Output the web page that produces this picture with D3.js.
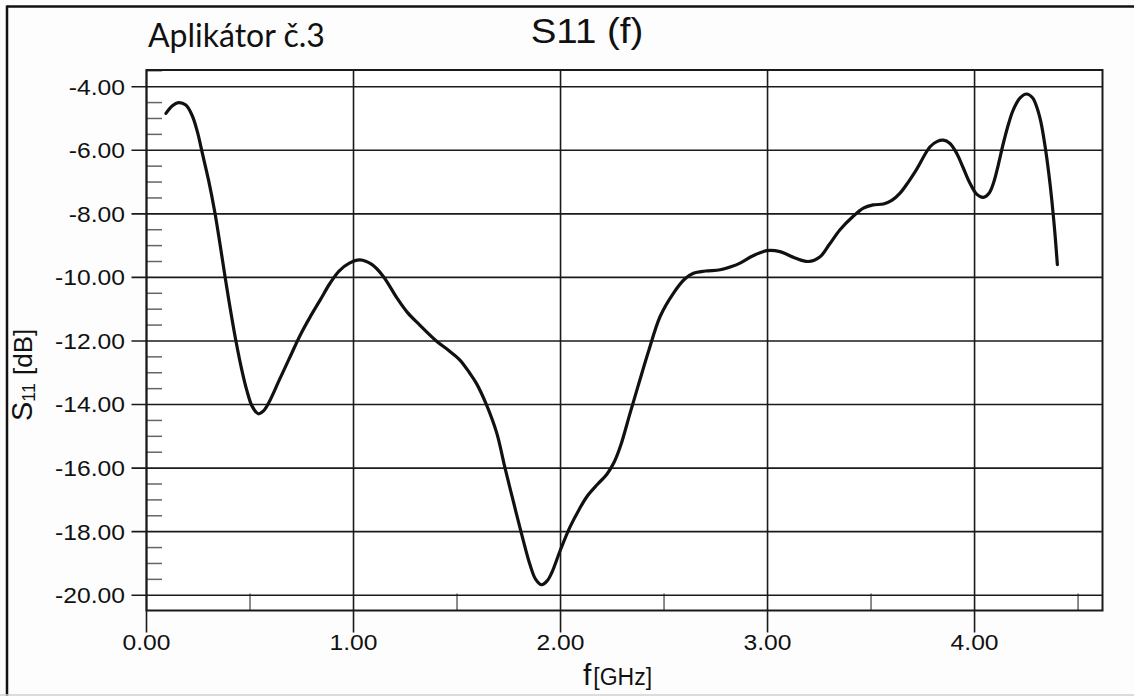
<!DOCTYPE html>
<html>
<head>
<meta charset="utf-8">
<script src="https://cdn.jsdelivr.net/npm/d3@7"></script>
<style>
  body { margin: 0; background: #fdfdfd; }
  svg { display: block; }
</style>
</head>
<body>
<div id="chart"></div>
<script>
// frequency [GHz]
var freq = [0.094, 0.125, 0.154, 0.19, 0.22, 0.245, 0.27, 0.30, 0.33, 0.355, 0.38, 0.405, 0.432, 0.46, 0.484, 0.51,
  0.54, 0.565, 0.59, 0.64, 0.69, 0.74, 0.79, 0.84, 0.885, 0.93, 0.98, 1.031, 1.09, 1.144, 1.21, 1.26, 1.32, 1.40,
  1.46, 1.514, 1.56, 1.595, 1.643, 1.692, 1.732, 1.772, 1.813, 1.853, 1.88, 1.909, 1.935, 1.957, 1.998, 2.046, 2.09,
  2.127, 2.18, 2.223, 2.26, 2.29, 2.336, 2.38, 2.424, 2.481, 2.545, 2.6, 2.642, 2.70, 2.771, 2.83, 2.867, 2.93,
  2.996, 3.06, 3.13, 3.197, 3.254, 3.30, 3.35, 3.41, 3.463, 3.51, 3.56, 3.60, 3.64, 3.68, 3.72, 3.785, 3.82, 3.849,
  3.88, 3.914, 3.945, 3.978, 4.01, 4.042, 4.07, 4.091, 4.115, 4.139, 4.165, 4.187, 4.22, 4.252, 4.28, 4.30, 4.32,
  4.341, 4.358, 4.373, 4.388, 4.40];

// S11 [dB]
var s11 = [-4.84, -4.6, -4.5, -4.58, -4.9, -5.4, -6.1, -6.95, -7.95, -8.95, -10.0, -11.0, -12.0, -12.9, -13.54, -14.05,
  -14.29, -14.2, -13.95, -13.25, -12.55, -11.85, -11.25, -10.7, -10.2, -9.8, -9.55, -9.45, -9.6, -9.97, -10.65, -11.1,
  -11.5, -12.0, -12.3, -12.6, -13.0, -13.35, -14.02, -14.9, -16.0, -17.05, -18.1, -19.05, -19.5, -19.67, -19.55, -19.3,
  -18.6, -17.85, -17.3, -16.9, -16.5, -16.2, -15.8, -15.3, -14.27, -13.3, -12.35, -11.23, -10.5, -10.05, -9.87, -9.8,
  -9.76, -9.65, -9.55, -9.32, -9.16, -9.19, -9.38, -9.5, -9.35, -8.95, -8.5, -8.1, -7.82, -7.72, -7.69, -7.58, -7.35,
  -7.0, -6.6, -5.89, -5.72, -5.68, -5.78, -6.1, -6.55, -7.04, -7.38, -7.48, -7.35, -7.04, -6.45, -5.78, -5.15, -4.73,
  -4.35, -4.23, -4.35, -4.63, -5.1, -5.89, -6.7, -7.56, -8.6, -9.6];

var xTicks = [0, 1, 2, 3, 4];
var xMinor = [0.5, 1.5, 2.5, 3.5, 4.5];
var yTicks = [-4, -6, -8, -10, -12, -14, -16, -18, -20];

var chartTitle = 'S11 (f)';
var subTitle = 'Aplikátor č.3';

var chart = (function() {

  var config = {
    width: 1134,
    height: 696,
    left: 146.5,
    right: 1102.5,
    top: 70,
    bottom: 610.5,
    xMax: 4.618,
    yMin: -20.48,
    yMax: -3.475,
    stretch: 1.12
  };
  var svg, x, y;

  function init() {
    svg = d3.select('#chart').append('svg')
      .attr('width', config.width)
      .attr('height', config.height);

    x = d3.scaleLinear().domain([0, config.xMax]).range([config.left, config.right]);
    y = d3.scaleLinear().domain([config.yMin, config.yMax]).range([config.bottom, config.top]);

    drawFrame();
    drawGrid();
    drawLabels();
    drawCurve();
  }

  // widen text a bit, the original picture is stretched horizontally
  function stretch(sel, k) {
    sel.each(function() {
      var w = this.getComputedTextLength();
      d3.select(this).attr('textLength', w * k).attr('lengthAdjust', 'spacingAndGlyphs');
    });
  }

  function drawFrame() {
    svg.append('rect').attr('width', config.width).attr('height', config.height).attr('fill', '#fdfdfd');
    svg.append('line').attr('x1', 7).attr('x2', config.width).attr('y1', 6.5).attr('y2', 6.5)
      .attr('stroke', '#111').attr('stroke-width', 2.5);
    svg.append('line').attr('x1', 7).attr('x2', 7).attr('y1', 5.5).attr('y2', config.height)
      .attr('stroke', '#111').attr('stroke-width', 2.5);
    svg.append('line').attr('x1', 0).attr('x2', config.width).attr('y1', 695).attr('y2', 695)
      .attr('stroke', '#d0d0d0').attr('stroke-width', 1.5);
    svg.append('rect')
      .attr('x', config.left).attr('y', config.top)
      .attr('width', config.right - config.left).attr('height', config.bottom - config.top)
      .attr('fill', '#fff');
  }

  function drawGrid() {
    var g = svg.append('g');

    // y minor ticks every 0.5 dB
    var minorY = d3.range(-20, -3.4, 0.5).filter(function(v) { return v % 2 !== 0; });
    g.selectAll('line.ymin').data(minorY).enter().append('line')
      .attr('class', 'ymin')
      .attr('x1', config.left).attr('x2', config.left + 15.5)
      .attr('y1', function(d) { return y(d); }).attr('y2', function(d) { return y(d); })
      .attr('stroke', '#666').attr('stroke-width', 1.5);

    g.selectAll('line.xmin').data(xMinor).enter().append('line')
      .attr('class', 'xmin')
      .attr('x1', function(d) { return x(d); }).attr('x2', function(d) { return x(d); })
      .attr('y1', config.bottom).attr('y2', config.bottom - 17)
      .attr('stroke', '#666').attr('stroke-width', 1.5);

    g.selectAll('line.ygrid').data(yTicks).enter().append('line')
      .attr('class', 'ygrid')
      .attr('x1', config.left - 15).attr('x2', config.right)
      .attr('y1', function(d) { return y(d); }).attr('y2', function(d) { return y(d); })
      .attr('stroke', '#1a1a1a').attr('stroke-width', 1.6);

    g.selectAll('line.xgrid').data(xTicks).enter().append('line')
      .attr('class', 'xgrid')
      .attr('x1', function(d) { return x(d); }).attr('x2', function(d) { return x(d); })
      .attr('y1', config.top).attr('y2', config.bottom + 22)
      .attr('stroke', '#1a1a1a').attr('stroke-width', 1.6);

    g.append('rect')
      .attr('x', config.left).attr('y', config.top)
      .attr('width', config.right - config.left).attr('height', config.bottom - config.top)
      .attr('fill', 'none').attr('stroke', '#1a1a1a').attr('stroke-width', 2);
  }

  function drawLabels() {
    var font = 'Arial, "Liberation Sans", sans-serif';

    var yl = svg.append('g').selectAll('text').data(yTicks).enter().append('text')
      .attr('x', 125).attr('y', function(d) { return y(d); })
      .attr('dy', '0.36em')
      .attr('text-anchor', 'end')
      .attr('font-family', font).attr('font-size', 22).attr('fill', '#111')
      .text(function(d) { return d.toFixed(2); });
    stretch(yl, config.stretch);

    var xl = svg.append('g').selectAll('text').data(xTicks).enter().append('text')
      .attr('x', function(d) { return x(d); }).attr('y', 650)
      .attr('text-anchor', 'middle')
      .attr('font-family', font).attr('font-size', 22).attr('fill', '#111')
      .text(function(d) { return d.toFixed(2); });
    stretch(xl, config.stretch);

    var t = svg.append('text')
      .attr('x', 587).attr('y', 43)
      .attr('text-anchor', 'middle')
      .attr('font-family', font).attr('font-size', 35).attr('fill', '#111')
      .text(chartTitle);
    stretch(t, 1.1);

    svg.append('text')
      .attr('x', 148).attr('y', 47)
      .attr('font-family', 'Lato, "Open Sans", sans-serif').attr('font-size', 32).attr('fill', '#111')
      .text(subTitle);

    // x axis title
    var xt = svg.append('text')
      .attr('x', 583).attr('y', 685)
      .attr('font-family', font).attr('fill', '#111');
    xt.append('tspan').attr('font-size', 30).text('f');
    xt.append('tspan').attr('font-size', 23).attr('dx', 2).text('[GHz]');

    // y axis title
    var yt = svg.append('text')
      .attr('transform', 'translate(32,421) rotate(-90)')
      .attr('font-family', font).attr('fill', '#111');
    yt.append('tspan').attr('font-size', 29).text('S');
    yt.append('tspan').attr('font-size', 18).attr('dy', 3).text('11');
    yt.append('tspan').attr('font-size', 26).attr('dy', -3).attr('dx', 8).text('[dB]');
  }

  function drawCurve() {
    var pts = freq.map(function(f, i) { return [f, s11[i]]; });
    var line = d3.line()
      .x(function(d) { return x(d[0]); })
      .y(function(d) { return y(d[1]); })
      .curve(d3.curveCatmullRom.alpha(0.5));

    svg.append('path')
      .datum(pts)
      .attr('d', line)
      .attr('fill', 'none')
      .attr('stroke', '#111')
      .attr('stroke-width', 3.2)
      .attr('stroke-linejoin', 'round')
      .attr('stroke-linecap', 'round');
  }

  return {
    init: init
  };

})();

chart.init();
</script>
</body>
</html>
